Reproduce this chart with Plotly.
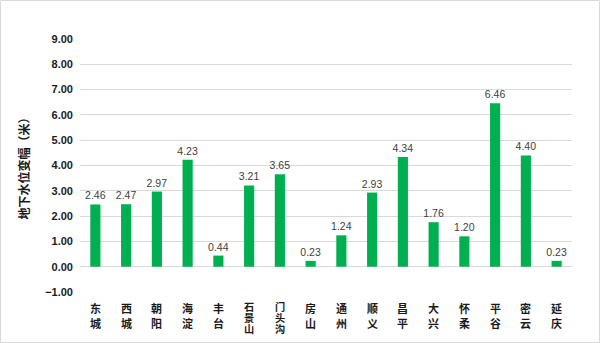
import plotly.graph_objects as go

districts = ["东城", "西城", "朝阳", "海淀", "丰台", "石景山", "门头沟", "房山",
             "通州", "顺义", "昌平", "大兴", "怀柔", "平谷", "密云", "延庆"]
values = [2.46, 2.47, 2.97, 4.23, 0.44, 3.21, 3.65, 0.23,
          1.24, 2.93, 4.34, 1.76, 1.20, 6.46, 4.40, 0.23]
y_ticks = [-1, 0, 1, 2, 3, 4, 5, 6, 7, 8, 9]
y_title = "地下水位变幅（米）"

ML, MR, MT, MB = 80, 28, 39, 51
W, H = 600, 343
pw, ph = W - ML - MR, H - MT - MB

fig = go.Figure(go.Bar(
    x=districts, y=values,
    marker=dict(color="#00b050", line=dict(width=0)),
    width=0.33,
    text=[f"{v:.2f}" for v in values],
    textposition="outside",
    constraintext="none",
    textfont=dict(family="Liberation Sans, Arial", size=10.5, color="#404040"),
    cliponaxis=False,
))

annotations = []
for d in districts:
    if len(d) == 2:
        offs, fs = [-15.5, -31], 11
    else:
        offs, fs = [-14, -25, -36], 10.2
    for ch, off in zip(d, offs):
        annotations.append(dict(
            x=d, y=0, xref="x", yref="paper", text=ch, showarrow=False,
            yshift=off, xanchor="center", yanchor="middle",
            font=dict(family="Noto Sans CJK SC", size=fs, color="#1a1a1a", weight="bold"),
        ))

fig.update_layout(
    width=W, height=H,
    margin=dict(l=ML, r=MR, t=MT, b=MB),
    paper_bgcolor="white", plot_bgcolor="white",
    showlegend=False,
    bargap=0.67,
    annotations=annotations,
    shapes=[dict(type="rect", xref="paper", yref="paper",
                 x0=-(ML - 0.5) / pw, x1=1 + (MR - 0.5) / pw,
                 y0=-(MB - 0.5) / ph, y1=1 + (MT - 0.5) / ph,
                 line=dict(color="#d9d9d9", width=1), layer="below")],
)
fig.update_xaxes(showticklabels=False, showgrid=False, showline=False, zeroline=False)
fig.update_yaxes(
    range=[-1, 9], tickvals=y_ticks, tickformat=".2f",
    showgrid=True, gridcolor="#d9d9d9", gridwidth=1,
    zeroline=True, zerolinecolor="#d9d9d9", zerolinewidth=1,
    showline=False, ticks="",
    ticklabelstandoff=6,
    tickfont=dict(family="Liberation Sans, Arial", size=11, color="#1a1a1a", weight="bold"),
    title=dict(text=y_title, standoff=12,
               font=dict(family="Noto Sans CJK SC", size=12, color="#1a1a1a", weight="bold")),
)
fig.write_html("out.html")
